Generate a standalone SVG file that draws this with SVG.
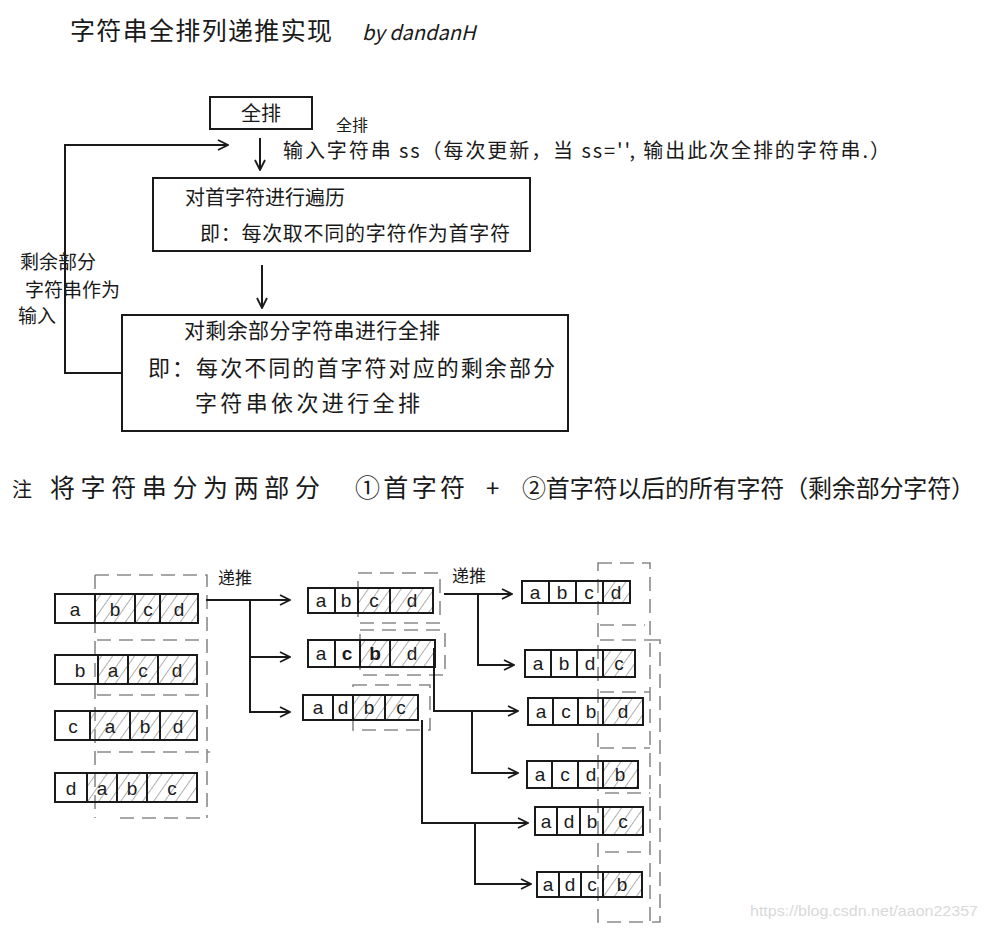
<svg xmlns="http://www.w3.org/2000/svg" width="986" height="929" viewBox="0 0 986 929">
<style>
  .hw { font-family: "Noto Sans CJK SC", "Liberation Sans", sans-serif; fill: #1a1a1a; }
  .lt { font-family: "Liberation Sans", "Noto Sans CJK SC", sans-serif; fill: #1a1a1a; font-size: 19px; text-anchor: middle; }
  .ln { fill: none; stroke: #1a1a1a; stroke-width: 2; }
  .cell { fill: none; stroke: #1a1a1a; stroke-width: 2; }
  .dash { fill: none; stroke: #8a8a8a; stroke-width: 1.6; stroke-dasharray: 14 8; }
  .h { fill: url(#hatch); }
</style>
<defs>
  <marker id="arr" viewBox="0 0 12 12" refX="11" refY="6" markerWidth="12" markerHeight="12" markerUnits="userSpaceOnUse" orient="auto">
    <path d="M1 1 L11 6 L1 11" fill="none" stroke="#1a1a1a" stroke-width="1.8"/>
  </marker>
  <pattern id="hatch" width="9" height="9" patternUnits="userSpaceOnUse" patternTransform="rotate(35)">
    <line x1="0" y1="0" x2="0" y2="9" stroke="#9a9a9a" stroke-width="1.6"/>
  </pattern>
</defs>
<rect width="986" height="929" fill="#ffffff"/>

<!-- Title -->
<g id="title">
  <text class="hw" x="70" y="40" font-size="25" textLength="262" lengthAdjust="spacing">字符串全排列递推实现</text>
  <text class="hw" x="362" y="40" font-size="20" font-style="italic" font-family="Liberation Sans, sans-serif">by dandanH</text>
</g>

<!-- Top flowchart -->
<g id="node-quanpai">
  <rect class="ln" x="210" y="97" width="102" height="32"/>
  <text class="hw" x="261" y="121" font-size="20" text-anchor="middle">全排</text>
</g>
<g id="node-input">
  <text class="hw" x="336" y="131" font-size="16">全排</text>
  <text class="hw" x="283" y="158" font-size="20" textLength="607" lengthAdjust="spacing">输入字符串 ss（每次更新，当 ss='', 输出此次全排的字符串.）</text>
</g>
<g id="node-traverse">
  <rect class="ln" x="153" y="178" width="377" height="73"/>
  <text class="hw" x="185" y="205" font-size="20">对首字符进行遍历</text>
  <text class="hw" x="200" y="241" font-size="20" textLength="310" lengthAdjust="spacing">即：每次取不同的字符作为首字符</text>
</g>
<g id="node-recurse">
  <rect class="ln" x="122" y="315" width="446" height="116"/>
  <text class="hw" x="184" y="338" font-size="21" textLength="256" lengthAdjust="spacing">对剩余部分字符串进行全排</text>
  <text class="hw" x="148" y="376" font-size="22" textLength="407" lengthAdjust="spacing">即：每次不同的首字符对应的剩余部分</text>
  <text class="hw" x="195" y="411" font-size="22" textLength="225" lengthAdjust="spacing">字符串依次进行全排</text>
</g>
<g id="label-loop">
  <text class="hw" x="20" y="269" font-size="19">剩余部分</text>
  <text class="hw" x="25" y="297" font-size="19">字符串作为</text>
  <text class="hw" x="18" y="323" font-size="19">输入</text>
</g>

<!-- Note -->
<g id="note">
  <text class="hw" x="12" y="497" font-size="20">注</text>
  <text class="hw" x="50" y="497" font-size="25" textLength="270" lengthAdjust="spacing">将字符串分为两部分</text>
  <text class="hw" x="355" y="497" font-size="25" textLength="110" lengthAdjust="spacing">①首字符</text>
  <text class="hw" x="486" y="497" font-size="24">+</text>
  <text class="hw" x="522" y="497" font-size="24" textLength="453" lengthAdjust="spacing">②首字符以后的所有字符（剩余部分字符）</text>
</g>

<!-- Left column -->
<g id="left-column">
  <path class="dash" d="M95 575 H207 V818 M95 575 V818 M97 640 H205 M97 695 H205 M97 752 H210 M120 818 H200"/>
  <g id="L1">
    <rect class="h" x="95" y="594" width="103" height="29"/>
    <rect class="cell" x="55" y="594" width="143" height="29"/>
    <path class="ln" d="M95 594 V623 M135 594 V623 M160 594 V623"/>
    <text class="lt" x="75" y="616">a</text><text class="lt" x="115" y="616">b</text><text class="lt" x="148" y="616">c</text><text class="lt" x="179" y="616">d</text>
  </g>
  <g id="L2">
    <rect class="h" x="98" y="655" width="99" height="29"/>
    <rect class="cell" x="55" y="655" width="142" height="29"/>
    <path class="ln" d="M98 655 V684 M128 655 V684 M158 655 V684"/>
    <text class="lt" x="80" y="677">b</text><text class="lt" x="113" y="677">a</text><text class="lt" x="143" y="677">c</text><text class="lt" x="177" y="677">d</text>
  </g>
  <g id="L3">
    <rect class="h" x="90" y="711" width="107" height="29"/>
    <rect class="cell" x="55" y="711" width="142" height="29"/>
    <path class="ln" d="M90 711 V740 M130 711 V740 M160 711 V740"/>
    <text class="lt" x="73" y="733">c</text><text class="lt" x="110" y="733">a</text><text class="lt" x="145" y="733">b</text><text class="lt" x="178" y="733">d</text>
  </g>
  <g id="L4">
    <rect class="h" x="87" y="773" width="110" height="29"/>
    <rect class="cell" x="55" y="773" width="142" height="29"/>
    <path class="ln" d="M87 773 V802 M117 773 V802 M147 773 V802"/>
    <text class="lt" x="71" y="795">d</text><text class="lt" x="102" y="795">a</text><text class="lt" x="132" y="795">b</text><text class="lt" x="172" y="795">c</text>
  </g>
</g>

<!-- Middle column -->
<g id="middle-column">
  <g id="M1">
    <rect class="dash" x="358" y="573" width="82" height="50"/>
    <rect class="h" x="358" y="588" width="75" height="25"/>
    <rect class="cell" x="308" y="588" width="125" height="25"/>
    <path class="ln" d="M335 588 V613 M358 588 V613 M390 588 V613"/>
    <text class="lt" x="321" y="607">a</text><text class="lt" x="346" y="607">b</text><text class="lt" x="374" y="607">c</text><text class="lt" x="412" y="607">d</text>
  </g>
  <g id="M2">
    <rect class="dash" x="360" y="630" width="85" height="45"/>
    <rect class="h" x="360" y="640" width="75" height="27"/>
    <rect class="cell" x="308" y="640" width="127" height="27"/>
    <path class="ln" d="M335 640 V667 M360 640 V667 M390 640 V667"/>
    <text class="lt" x="321" y="660">a</text><text class="lt" x="347" y="660" font-weight="bold">c</text><text class="lt" x="375" y="660" font-weight="bold">b</text><text class="lt" x="412" y="660">d</text>
  </g>
  <g id="M3">
    <rect class="dash" x="353" y="685" width="77" height="45"/>
    <rect class="h" x="353" y="695" width="65" height="25"/>
    <rect class="cell" x="303" y="695" width="115" height="25"/>
    <path class="ln" d="M333 695 V720 M353 695 V720 M385 695 V720"/>
    <text class="lt" x="318" y="714">a</text><text class="lt" x="343" y="714">d</text><text class="lt" x="369" y="714">b</text><text class="lt" x="401" y="714">c</text>
  </g>
</g>

<!-- Right column -->
<g id="right-column">
  <path class="dash" d="M598 563 H650 V922 H598 Z M600 625 H645 M600 640 H650 M600 692 H650 M600 748 H650 M605 793 H650 M605 852 H650 M650 640 H660 V922 H650"/>
  <g id="R1">
    <rect class="h" x="603" y="581" width="27" height="22"/>
    <rect class="cell" x="522" y="581" width="108" height="22"/>
    <path class="ln" d="M549 581 V603 M576 581 V603 M603 581 V603"/>
    <text class="lt" x="535" y="599">a</text><text class="lt" x="562" y="599">b</text><text class="lt" x="589" y="599">c</text><text class="lt" x="616" y="599">d</text>
  </g>
  <g id="R2">
    <rect class="h" x="603" y="650" width="32" height="27"/>
    <rect class="cell" x="525" y="650" width="110" height="27"/>
    <path class="ln" d="M551 650 V677 M577 650 V677 M603 650 V677"/>
    <text class="lt" x="538" y="670">a</text><text class="lt" x="564" y="670">b</text><text class="lt" x="590" y="670">d</text><text class="lt" x="619" y="670">c</text>
  </g>
  <g id="R3">
    <rect class="h" x="603" y="698" width="40" height="27"/>
    <rect class="cell" x="528" y="698" width="115" height="27"/>
    <path class="ln" d="M553 698 V725 M578 698 V725 M603 698 V725"/>
    <text class="lt" x="541" y="718">a</text><text class="lt" x="566" y="718">c</text><text class="lt" x="591" y="718">b</text><text class="lt" x="623" y="718">d</text>
  </g>
  <g id="R4">
    <rect class="h" x="603" y="761" width="35" height="27"/>
    <rect class="cell" x="527" y="761" width="111" height="27"/>
    <path class="ln" d="M552 761 V788 M578 761 V788 M603 761 V788"/>
    <text class="lt" x="540" y="781">a</text><text class="lt" x="565" y="781">c</text><text class="lt" x="591" y="781">d</text><text class="lt" x="620" y="781">b</text>
  </g>
  <g id="R5">
    <rect class="h" x="603" y="807" width="40" height="28"/>
    <rect class="cell" x="535" y="807" width="108" height="28"/>
    <path class="ln" d="M557 807 V835 M580 807 V835 M603 807 V835"/>
    <text class="lt" x="546" y="828">a</text><text class="lt" x="569" y="828">d</text><text class="lt" x="592" y="828">b</text><text class="lt" x="623" y="828">c</text>
  </g>
  <g id="R6">
    <rect class="h" x="603" y="872" width="39" height="25"/>
    <rect class="cell" x="537" y="872" width="105" height="25"/>
    <path class="ln" d="M559 872 V897 M581 872 V897 M603 872 V897"/>
    <text class="lt" x="548" y="891">a</text><text class="lt" x="570" y="891">d</text><text class="lt" x="592" y="891">c</text><text class="lt" x="622" y="891">b</text>
  </g>
</g>

<!-- Connectors -->
<g id="connectors">
  <line class="ln" x1="260" y1="138" x2="260" y2="170" marker-end="url(#arr)"/>
  <path class="ln" d="M122 373 H65 V145 H228" marker-end="url(#arr)"/>
  <line class="ln" x1="262" y1="265" x2="262" y2="308" marker-end="url(#arr)"/>
  <text class="hw" x="218" y="584" font-size="17">递推</text>
  <path class="ln" d="M206 600 H290" marker-end="url(#arr)"/>
  <path class="ln" d="M250 600 V657 H290" marker-end="url(#arr)"/>
  <path class="ln" d="M250 657 V712 H290" marker-end="url(#arr)"/>
  <text class="hw" x="452" y="582" font-size="17">递推</text>
  <path class="ln" d="M444 594 H512" marker-end="url(#arr)"/>
  <path class="ln" d="M478 594 V665 H514" marker-end="url(#arr)"/>
  <path class="ln" d="M434 648 V711 H518" marker-end="url(#arr)"/>
  <path class="ln" d="M472 711 V773 H518" marker-end="url(#arr)"/>
  <path class="ln" d="M422 720 V823 H528" marker-end="url(#arr)"/>
  <path class="ln" d="M475 823 V884 H531" marker-end="url(#arr)"/>
</g>

<text x="750" y="916" font-family="Liberation Sans, sans-serif" font-size="15" fill="#d9d9d9" textLength="228" lengthAdjust="spacingAndGlyphs">https://blog.csdn.net/aaon22357</text>
</svg>
